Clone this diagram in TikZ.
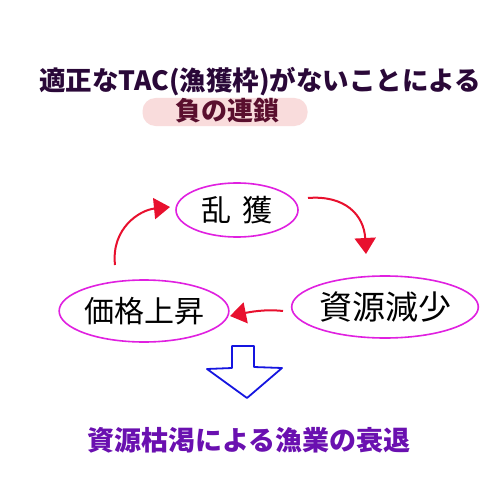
\documentclass[tikz,border=0pt]{standalone}
\usepackage{fontspec}
\newfontfamily\cjk{Noto Sans CJK JP}
\usetikzlibrary{shapes.geometric,arrows.meta}
\definecolor{titlec}{HTML}{2A0838}
\definecolor{chainc}{HTML}{5A0F2E}
\definecolor{pinkbg}{HTML}{F9DCDC}
\definecolor{ellc}{HTML}{E020E0}
\definecolor{redc}{HTML}{E8102E}
\definecolor{bluec}{HTML}{1515E0}
\definecolor{purc}{HTML}{6A10B0}
\tikzset{
  hand/.style={ellipse, draw=ellc, line width=1.6pt, inner sep=0pt, font=\cjk\fontsize{30}{30}\selectfont},
  redarrow/.style={draw=redc, line width=2pt, -{Triangle[length=16pt,width=21pt]}},
}
\begin{document}
\begin{tikzpicture}[x=1pt,y=-1pt]
\useasboundingbox (0,0) rectangle (500,500);
\fill[white] (0,0) rectangle (500,500);
\node[text=titlec, font=\cjk\bfseries\fontsize{26.5}{26.5}\selectfont] (title) at (260,82) {適正なTAC(漁獲枠)がないことによる};
\node[fill=pinkbg, rounded corners=13pt, minimum width=165pt, minimum height=28pt, inner sep=0pt] (chainbg) at (225,112) {};
\node[text=chainc, font=\cjk\bfseries\fontsize{26}{26}\selectfont] (chain) at (227,111) {負の連鎖};
\node[hand, minimum width=122pt, minimum height=54pt] (rk) at (237,210) {乱\hspace{0.35em}獲};
\node[hand, minimum width=162pt, minimum height=62pt] (kk) at (144,311) {価格上昇};
\node[hand, minimum width=172pt, minimum height=62pt, font=\cjk\fontsize{33}{33}\selectfont] (sg) at (385,307) {資源減少};
\coordinate (a1s) at (115,265);
\coordinate (a1e) at (170,207);
\coordinate (a2s) at (308,198);
\coordinate (a2e) at (366,254);
\coordinate (a3s) at (283,311);
\coordinate (a3e) at (230,316);
\draw[redarrow] (a1s) .. controls (111,228) and (140,210) .. (a1e);
\draw[redarrow] (a2s) .. controls (345,195) and (364,215) .. (a2e);
\draw[redarrow] (a3s) .. controls (265,309) and (250,312) .. (a3e);
\draw[bluec, line width=1.8pt, line join=round] (232,346) -- (254,346) -- (254,367) -- (282,368) -- (247,398) -- (207,369) -- (232,368) -- cycle;
\node[text=purc, font=\cjk\bfseries\fontsize{27}{27}\selectfont] (bottom) at (249,440) {資源枯渇による漁業の衰退};
\end{tikzpicture}
\end{document}
